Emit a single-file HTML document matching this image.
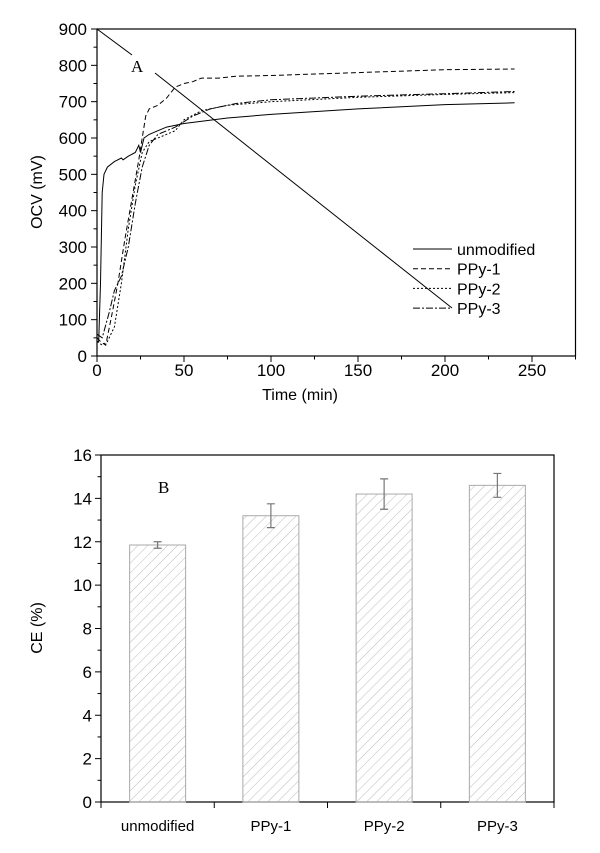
<!DOCTYPE html>
<html><head><meta charset="utf-8"><style>
body{margin:0;background:#fff}
svg{display:block;font-family:"Liberation Sans",Arial,sans-serif}
</style></head><body>
<svg id="c" width="600" height="853" viewBox="0 0 600 853">
<defs>
<pattern id="hatch" patternUnits="userSpaceOnUse" width="7" height="7" patternTransform="rotate(45)">
<line x1="0" y1="0" x2="0" y2="7" stroke="#aaa" stroke-width="0.8"/>
</pattern>
</defs>
<g id="chartA"></g>
<g id="chartB"></g>
</svg>
<script>
// ---- Chart A data ----
const tUnmod=[0,1,2,3,4,6,10,14,15,18,22,24,25,27,30,35,40,50,75,100,150,200,240];
const vUnmod=[40,40,200,450,500,520,535,545,540,550,560,580,560,600,610,620,630,640,655,665,680,692,697];
const tP1=[0,2,5,8,12,16,20,24,26,28,30,35,40,45,50,55,60,70,80,100,150,200,240];
const vP1=[50,40,30,100,200,320,430,540,600,660,680,690,710,740,750,755,765,765,770,772,780,788,790];
const tP2=[0,3,6,10,14,18,22,26,30,35,45,50,60,75,100,150,200,240];
const vP2=[40,30,40,80,200,350,470,560,590,600,620,650,675,690,700,712,720,725];
const tP3=[0,3,7,10,14,18,22,26,30,35,45,55,65,80,100,150,200,240];
const vP3=[60,50,120,180,220,300,420,520,580,610,630,660,680,695,705,715,722,728];
const xTicksA=[0,50,100,150,200,250];
const yTicksA=[0,100,200,300,400,500,600,700,800,900];
// ---- Chart B data ----
const cats=["unmodified","PPy-1","PPy-2","PPy-3"];
const ceVals=[11.85,13.2,14.2,14.6];
const ceErr=[0.15,0.55,0.7,0.55];
const yTicksB=[0,2,4,6,8,10,12,14,16];

const NS="http://www.w3.org/2000/svg";
function mk(p,tag,at,txt){const e=document.createElementNS(NS,tag);for(const k in at)e.setAttribute(k,at[k]);if(txt!==undefined)e.textContent=txt;p.appendChild(e);return e;}

// Chart A
const gA=document.getElementById('chartA');
const ax=t=>97+t*(435/250), ay=v=>356-v*(327/900);
mk(gA,'rect',{x:97,y:29,width:ax(275)-97,height:327,fill:'none',stroke:'#000','stroke-width':1.2,});
for(let t=0;t<=275;t+=25){const x=ax(t),major=t%50===0;
 const l=mk(gA,'line',{x1:x,y1:356,x2:x,y2:356+(major?6:3.5),stroke:'#000'});
 
 }
xTicksA.forEach(t=>{const e=mk(gA,'text',{x:ax(t),y:376,'font-size':17,'text-anchor':'middle'},String(t));
 
 });
for(let v=0;v<=900;v+=50){const y=ay(v),major=v%100===0;
 const l=mk(gA,'line',{x1:97,y1:y,x2:97-(major?6:3.5),y2:y,stroke:'#000'});
 
 }
yTicksA.forEach(v=>{const e=mk(gA,'text',{x:87,y:ay(v)+6,'font-size':17,'text-anchor':'end'},String(v));
 
 });
mk(gA,'text',{x:300,y:400,'font-size':16,'text-anchor':'middle',},'Time (min)');
mk(gA,'text',{x:0,y:0,'font-size':16,'text-anchor':'middle',transform:'translate(42,192) rotate(-90)',},'OCV (mV)');
const series=[[tUnmod,vUnmod,'none','unmodified'],[tP1,vP1,'5,3','PPy-1'],[tP2,vP2,'2,2','PPy-2'],[tP3,vP3,'7,2,2,2','PPy-3']];
series.forEach((s,i)=>{const d=s[0].map((t,j)=>(j?'L':'M')+ax(t).toFixed(1)+','+ay(s[1][j]).toFixed(1)).join('');
 const p=mk(gA,'path',{d:d,fill:'none',stroke:'#000','stroke-width':1,'stroke-dasharray':s[2]});
 
 
 const ly=249+i*19.7;
 const l=mk(gA,'line',{x1:413,y1:ly,x2:452,y2:ly,stroke:'#000','stroke-dasharray':s[2]});
 
 
 const tx=mk(gA,'text',{x:457,y:ly+6,'font-size':16},s[3]);
 
 });
mk(gA,'line',{x1:97,y1:29,x2:132,y2:55,stroke:'#000',});
mk(gA,'line',{x1:155,y1:73,x2:452,y2:308,stroke:'#000',});
mk(gA,'text',{x:131,y:72,'font-size':17,'font-family':'Liberation Serif,serif',},'A');

// Chart B
const gB=document.getElementById('chartB');
const bl=101,br=554,band=(br-bl)/cats.length;
const bx=i=>bl+band*(i+0.5), by=v=>802-v*(347/16);
mk(gB,'rect',{x:bl,y:455,width:br-bl,height:347,fill:'none',stroke:'#000','stroke-width':1.2,});
for(let v=0;v<=16;v++){const y=by(v),major=v%2===0;
 const l=mk(gB,'line',{x1:bl,y1:y,x2:bl-(major?6:3.5),y2:y,stroke:'#000'});
 
 }
yTicksB.forEach(v=>{const e=mk(gB,'text',{x:92,y:by(v)+6,'font-size':17,'text-anchor':'end'},String(v));
 
 });
for(let i=0;i<=cats.length;i++){const l=mk(gB,'line',{x1:bl+band*i,y1:802,x2:bl+band*i,y2:808,stroke:'#000'});
 
 }
mk(gB,'text',{x:0,y:0,'font-size':16,'text-anchor':'middle',transform:'translate(42,628) rotate(-90)',},'CE (%)');
mk(gB,'text',{x:158,y:493,'font-size':17,'font-family':'Liberation Serif,serif',},'B');
cats.forEach((c,i)=>{const x=bx(i),w=56,y=by(ceVals[i]);
 const r=mk(gB,'rect',{x:x-w/2,y:y,width:w,height:802-y,fill:'url(#hatch)',stroke:'#aaa','stroke-width':1});
 
 
 const y1=by(ceVals[i]+ceErr[i]),y2=by(ceVals[i]-ceErr[i]);
 const g=mk(gB,'path',{d:`M${x},${y1}V${y2}M${x-4},${y1}H${x+4}M${x-4},${y2}H${x+4}`,stroke:'#777','stroke-width':1.2,fill:'none'});
 
 
 const t=mk(gB,'text',{x:x,y:831,'font-size':15,'text-anchor':'middle'},c);
 
 });
</script>
</body></html>
